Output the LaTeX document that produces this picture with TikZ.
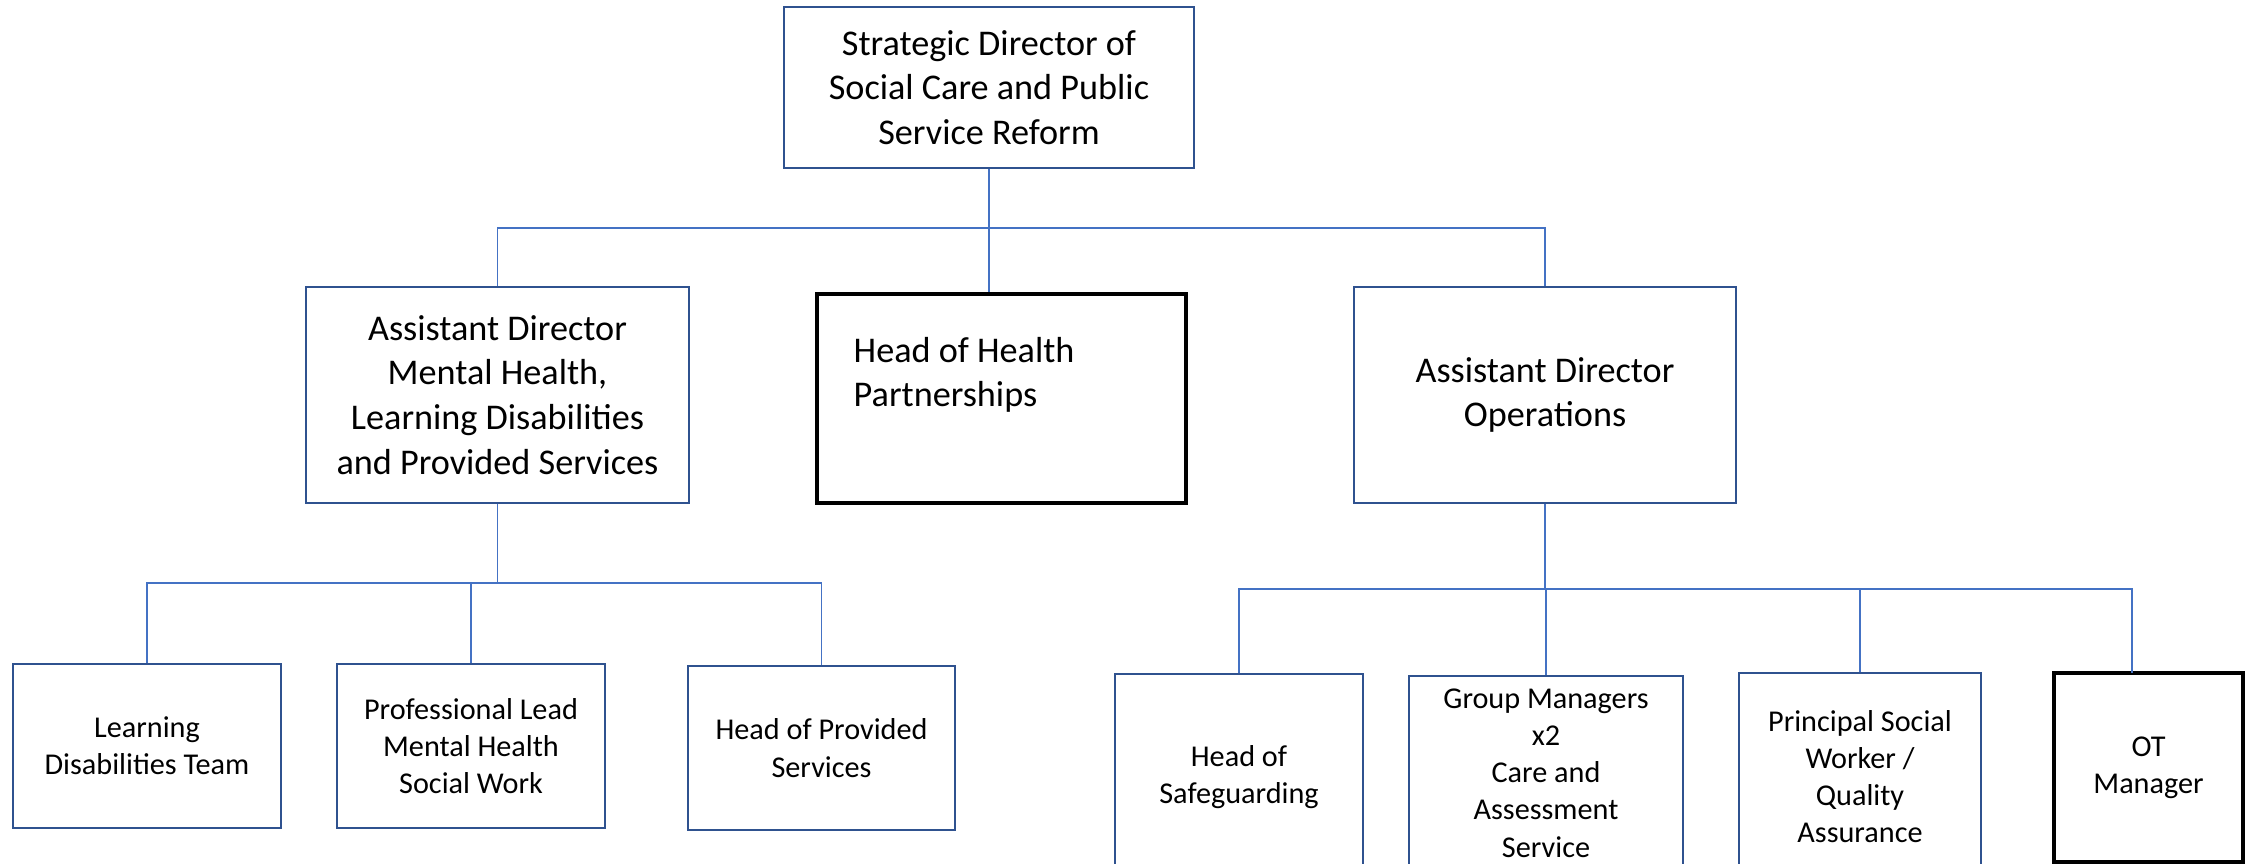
\documentclass[tikz,border=0pt]{standalone}
\usepackage{fontspec}
\setmainfont{Carlito}
\usepackage{tikz}

\definecolor{boxblue}{HTML}{2F528F}
\definecolor{lineblue}{HTML}{4472C4}

\begin{document}
\begin{tikzpicture}[y=-1cm,
  bluebox/.style={draw=boxblue, line width=0.8pt, align=center, inner sep=0pt},
  blackbox/.style={draw=black, line width=1pt, align=center, inner sep=0pt},
  bigtext/.style={font=\fontsize{10.3}{12.7}\selectfont},
  smalltext/.style={font=\fontsize{8.6}{10.6}\selectfont},
  link/.style={draw=lineblue, line width=0.4pt}]
% fix the page, boxes at the bottom run off it
\useasboundingbox (0,0) rectangle (22.46,8.64);
\clip (0,0) rectangle (22.46,8.64);

% top
\node[bluebox, bigtext, minimum width=4.10cm, minimum height=1.61cm] (director) at (9.89,0.875)
  {Strategic Director of\\Social Care and Public\\Service Reform};

% second row
\node[bluebox, bigtext, minimum width=3.83cm, minimum height=2.16cm] (admental) at (4.975,3.95)
  {Assistant Director\\Mental Health,\\Learning Disabilities\\and Provided Services};
\node[blackbox, minimum width=3.69cm, minimum height=2.09cm] (health) at (10.015,3.985) {};
\node[bigtext, anchor=west, align=left, inner sep=0pt] (healthtext) at (8.53,3.75)
  {Head of Health\\Partnerships};
\node[bluebox, bigtext, minimum width=3.82cm, minimum height=2.16cm] (adops) at (15.45,3.95)
  {Assistant Director\\Operations};

% third row, left
\node[bluebox, smalltext, minimum width=2.68cm, minimum height=1.64cm] (ldteam) at (1.47,7.46)
  {Learning\\Disabilities Team};
\node[bluebox, smalltext, minimum width=2.68cm, minimum height=1.64cm] (proflead) at (4.71,7.46)
  {Professional Lead\\Mental Health\\Social Work};
\node[bluebox, smalltext, minimum width=2.67cm, minimum height=1.64cm] (provided) at (8.215,7.48)
  {Head of Provided\\Services};

% third row, right
\node[bluebox, smalltext, minimum width=2.48cm, minimum height=2.06cm] (safeguard) at (12.39,7.77)
  {Head of\\Safeguarding};
\node[bluebox, smalltext, minimum width=2.74cm, minimum height=1.94cm] (groupman) at (15.46,7.73)
  {Group Managers\\x2\\Care and\\Assessment\\Service};
\node[bluebox, smalltext, minimum width=2.42cm, minimum height=2.07cm] (principal) at (18.60,7.765)
  {Principal Social\\Worker /\\Quality\\Assurance};
\node[blackbox, smalltext, minimum width=1.89cm, minimum height=1.89cm] (otman) at (21.485,7.675)
  {OT\\Manager};

% connectors
\coordinate (busA) at (9.89,2.28);
\coordinate (busB) at (4.975,5.83);
\coordinate (busC) at (15.45,5.89);
\coordinate (otdrop) at (21.32,6.73);

\path[link] (director.south) -- (busA) -- (busA |- health.north);
\path[link] (admental.north) |- (busA) -| (adops.north);

\path[link] (admental.south) -- (busB);
\path[link] (ldteam.north) |- (busB) -| (provided.north);
\path[link] (busB) -| (proflead.north);

\path[link] (adops.south) -- (busC);
\path[link] (safeguard.north) |- (busC) -| (groupman.north);
\path[link] (busC) -| (principal.north);
\path[link] (busC) -| (otdrop);
\end{tikzpicture}
\end{document}
